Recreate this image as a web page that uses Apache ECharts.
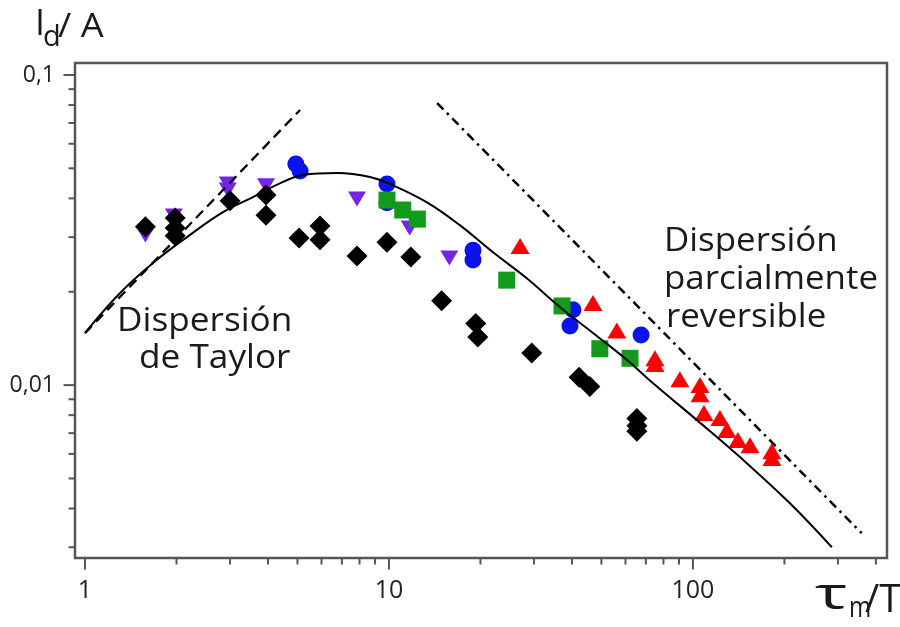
<!DOCTYPE html>
<html><head><meta charset="utf-8">
<script src="https://cdn.jsdelivr.net/npm/echarts@6/dist/echarts.min.js"></script>
<style>html,body{margin:0;padding:0;background:#fff}#c{width:900px;height:627px}</style>
</head><body><div id="c"></div>
<script>
// ---- data (log-log) ----
const diamondX = [1.58, 1.98, 1.98, 1.98, 3.0, 3.94, 3.94, 5.06, 5.93, 5.93, 7.85, 9.85, 11.8, 14.9, 19.3, 19.6, 29.5, 42.2, 45.8, 65.4, 65.4, 65.4];
const diamondY = [0.0324, 0.0346, 0.0321, 0.0303, 0.0393, 0.041, 0.0353, 0.0298, 0.0326, 0.0294, 0.0261, 0.0289, 0.0259, 0.0187, 0.0158, 0.0143, 0.0127, 0.0106, 0.0099, 0.0078, 0.0074, 0.0071];
const circleX = [4.94, 5.10, 9.85, 9.85, 18.9, 18.9, 40.3, 39.4, 67.5];
const circleY = [0.0516, 0.0490, 0.0445, 0.0387, 0.0272, 0.0253, 0.0175, 0.0155, 0.0145];
const downTriX = [1.58, 1.96, 2.95, 2.95, 3.94, 7.85, 11.7, 15.8];
const downTriY = [0.0305, 0.0351, 0.0445, 0.0426, 0.0439, 0.0398, 0.0321, 0.0257];
const squareX = [9.85, 11.1, 12.4, 24.4, 37.1, 49.4, 62.1];
const squareY = [0.0395, 0.0367, 0.0343, 0.0218, 0.0180, 0.0131, 0.0122];
const upTriX = [27.0, 46.9, 56.2, 75.0, 75.0, 90.6, 105.5, 105.5, 108.7, 122.7, 129.4, 140.6, 154.1, 181.9, 181.9];
const upTriY = [0.0281, 0.0184, 0.0150, 0.0122, 0.0117, 0.01045, 0.0100, 0.00935, 0.00813, 0.00783, 0.00716, 0.00665, 0.0064, 0.00612, 0.00582];
const curveX = [1.0, 1.304, 1.674, 2.165, 2.844, 3.57, 4.48, 5.21, 6.75, 8.66, 10.3, 13.3, 17.1, 22.0, 28.4, 36.5, 46.9, 60.7, 73.8, 103.1, 142.8, 208.5, 286.5];
const curveY = [0.01473, 0.01982, 0.02477, 0.0300, 0.0361, 0.0404, 0.0452, 0.0476, 0.0483, 0.0469, 0.0441, 0.0389, 0.0328, 0.0268, 0.0221, 0.01786, 0.01473, 0.01205, 0.01015, 0.00771, 0.00586, 0.00416, 0.00300];
const taylorX = [1.0, 5.1];
const taylorY = [0.0147, 0.0771];
const reversibleX = [14.4, 359];
const reversibleY = [0.0812, 0.00333];
// ---- axes ----
const xMin = 0.927, xMax = 435, yMin = 0.00277, yMax = 0.1093;
const xMajorTicks = [1, 10, 100];
const xTickLabels = ['1', '10', '100'];
const xMinorTicks = [2, 3, 4, 5, 6, 7, 8, 9, 20, 30, 40, 50, 60, 70, 80, 90, 200, 300, 400];
const yMajorTicks = [0.01, 0.1];
const yTickLabels = ['0,01', '0,1'];
const yMinorTicks = [0.003, 0.004, 0.005, 0.006, 0.007, 0.008, 0.009, 0.02, 0.03, 0.04, 0.05, 0.06, 0.07, 0.08, 0.09];

const zip = (xs, ys) => xs.map((x, i) => [x, ys[i]]);
const FONT = '"Open Sans", "Noto Sans", sans-serif';
const AX = '#555555';
const INK = '#1a1a1a';

const chart = echarts.init(document.getElementById('c'), null, {renderer: 'canvas'});

function labelFor(ticks, labels) {
  return v => {
    const i = ticks.findIndex(t => Math.abs(Math.log10(v / t)) < 1e-6);
    return i >= 0 ? labels[i] : '';
  };
}
function tickSeries(data, size, offset) {
  return {
    type: 'scatter', silent: true, clip: false, z: 1,
    symbol: 'rect', symbolSize: size, symbolOffset: offset,
    itemStyle: {color: AX, opacity: 1}, label: {show: false},
    data: data
  };
}
function txt(s, left, top, size, sx) {
  return {type: 'text', left: left, top: top, scaleX: sx || 1,
    style: {text: s, font: size + 'px ' + FONT, fill: INK}};
}

const option = {
  animation: false,
  backgroundColor: '#ffffff',
  grid: {left: 75, top: 63, right: 13, bottom: 69, show: true, borderColor: AX, borderWidth: 2.5, backgroundColor: 'transparent'},
  xAxis: {type: 'log', min: xMin, max: xMax, logBase: 10,
    axisLine: {show: false}, axisTick: {show: false}, splitLine: {show: false},
    axisLabel: {show: true, margin: 20, fontSize: 25, fontFamily: FONT, color: '#222',
      showMinLabel: false, showMaxLabel: false, formatter: labelFor(xMajorTicks, xTickLabels)}},
  yAxis: {type: 'log', min: yMin, max: yMax, logBase: 10,
    axisLine: {show: false}, axisTick: {show: false}, splitLine: {show: false},
    axisLabel: {show: true, margin: 20, fontSize: 23, fontFamily: FONT, color: '#222',
      showMinLabel: false, showMaxLabel: false, formatter: labelFor(yMajorTicks, yTickLabels)}},
  series: [
    tickSeries(xMajorTicks.map(v => [v, yMin]), [2, 11], [0, 6]),
    tickSeries(xMinorTicks.map(v => [v, yMin]), [2, 6], [0, 3.5]),
    tickSeries(yMajorTicks.map(v => [xMin, v]), [11, 2], [-6, 0]),
    tickSeries(yMinorTicks.map(v => [xMin, v]), [6, 2], [-3.5, 0]),
    {type: 'scatter', symbol: 'triangle', symbolRotate: 180, symbolSize: [18, 15], z: 2,
      itemStyle: {color: '#7424e2', opacity: 1}, data: zip(downTriX, downTriY)},
    {type: 'scatter', symbol: 'diamond', symbolSize: 21, z: 3,
      itemStyle: {color: '#000000', opacity: 1}, data: zip(diamondX, diamondY)},
    {type: 'scatter', symbol: 'circle', symbolSize: 17, z: 4,
      itemStyle: {color: '#0a12f0', opacity: 1}, data: zip(circleX, circleY)},
    {type: 'scatter', symbol: 'rect', symbolSize: 17, z: 5,
      itemStyle: {color: '#129a1a', opacity: 1}, data: zip(squareX, squareY)},
    {type: 'scatter', symbol: 'triangle', symbolSize: [19, 16], z: 6,
      itemStyle: {color: '#ff0000', opacity: 1}, data: zip(upTriX, upTriY)},
    {type: 'line', smooth: 0.4, showSymbol: false, symbol: 'none', z: 8,
      lineStyle: {color: '#000', width: 2}, data: zip(curveX, curveY)},
    {type: 'line', showSymbol: false, symbol: 'none', z: 8,
      lineStyle: {color: '#000', width: 2.3, type: [10, 6]}, data: zip(taylorX, taylorY)},
    {type: 'line', showSymbol: false, symbol: 'none', z: 8,
      lineStyle: {color: '#000', width: 2.5, type: [9, 5, 2.5, 5]}, data: zip(reversibleX, reversibleY)}
  ],
  graphic: [
    txt('I', 35, 7, 36),
    txt('d', 43, 23, 29),
    txt('/ A', 58, 11, 33, 1.1),
    txt('τ', 815, 574, 44, 1.55),
    txt('m', 849, 593, 30, 0.8),
    txt('/T', 865, 581, 39),
    txt('Dispersión', 117, 306, 32, 1.1),
    txt('de Taylor', 139, 343, 32, 1.1),
    txt('Dispersión', 664, 226, 32, 1.09),
    txt('parcialmente', 664, 264, 32, 1.09),
    txt('reversible', 666, 302, 32, 1.09)
  ]
};
chart.setOption(option);
</script>
</body></html>
